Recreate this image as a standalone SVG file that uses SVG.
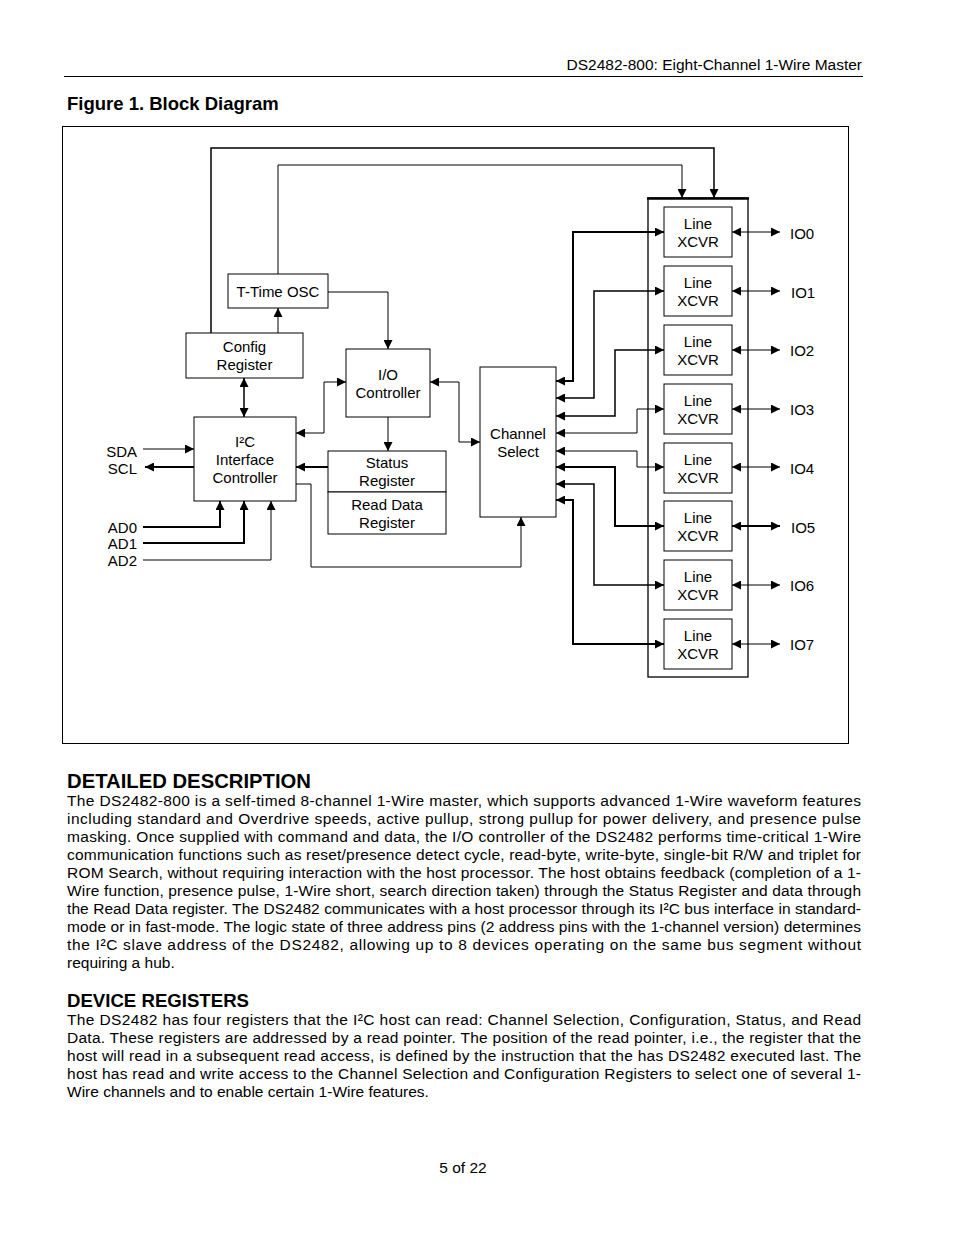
<svg xmlns="http://www.w3.org/2000/svg" width="954" height="1235" viewBox="0 0 954 1235">
<defs>
<marker id="a" viewBox="0 0 9 9" refX="9" refY="4.5" markerWidth="9" markerHeight="9" markerUnits="userSpaceOnUse" orient="auto-start-reverse">
<path d="M0,0 L9,4.5 L0,9 z" fill="#000"/>
</marker>
</defs>
<style>
text{font-family:"Liberation Sans",Arial,sans-serif;fill:#000}
.d{font-size:15px;text-anchor:middle}
.l{font-size:15px}
.r{font-size:15px;text-anchor:end}
.b{font-size:15.5px}
.h{font-weight:bold}
.box{fill:#fff;stroke:#000;stroke-width:1}
.c{fill:none;stroke:#000;stroke-width:1}
.t{stroke-width:2}
.m{stroke-width:1.5}
.e{marker-end:url(#a)}
.s{marker-start:url(#a)}
</style>
<rect width="954" height="1235" fill="#fff"/>
<g id="page">
<path d="M64,76.5 H863" stroke="#000" stroke-width="1.2"/>
<text class="b" x="862" y="70" text-anchor="end">DS2482-800: Eight-Channel 1-Wire Master</text>
<text class="h" x="67" y="110" font-size="18.5">Figure 1. Block Diagram</text>
<rect x="62.5" y="126.5" width="786" height="617" fill="none" stroke="#000" stroke-width="1"/>
</g>
<g id="xcvr-bank">
<rect x="648" y="198" width="100" height="479" fill="none" stroke="#000" stroke-width="1.3"/>
<path d="M647,198.5 H749" stroke="#000" stroke-width="2.5"/>
</g>
<g id="connectors">
<path class="c m e" d="M211,333 V148 H714 V198"/>
<path class="c e" d="M278,274 V165 H682 V198"/>
<path class="c e" d="M278,333 V308"/>
<path class="c e" d="M328,292 H388 V349"/>
<path class="c m s e" d="M244,378 V417"/>
<path class="c s e" d="M296,433 H324 V382 H346"/>
<path class="c e" d="M388,417 V451"/>
<path class="c t e" d="M328,467 H296"/>
<path class="c s e" d="M430,382 H459 V442 H480"/>
<path class="c e" d="M296,484 H311 V567 H521 V517"/>
<path class="c e" d="M143,449 H194"/>
<path class="c t e" d="M194,467 H145"/>
<path class="c t e" d="M143,527 H220 V501"/>
<path class="c t e" d="M143,543 H244 V501"/>
<path class="c e" d="M143,560 H271 V501"/>
<path class="c t s e" d="M556,381 H573 V232 H664"/>
<path class="c m s e" d="M556,398 H594 V291 H664"/>
<path class="c m s e" d="M556,416 H615 V350 H664"/>
<path class="c s e" d="M556,433 H637 V409 H664"/>
<path class="c s e" d="M556,451 H637 V467 H664"/>
<path class="c t s e" d="M556,467 H615 V526 H664"/>
<path class="c m s e" d="M556,484 H594 V585 H664"/>
<path class="c t s e" d="M556,500 H573 V644 H664"/>
<path class="c s e" d="M732,232 H780"/>
<path class="c s e" d="M732,291 H780"/>
<path class="c s e" d="M732,350 H780"/>
<path class="c s e" d="M732,409 H780"/>
<path class="c s e" d="M732,467 H780"/>
<path class="c t s e" d="M732,526 H780"/>
<path class="c s e" d="M732,585 H780"/>
<path class="c s e" d="M732,644 H780"/>
</g>
<g id="config-register">
<rect class="box" x="186" y="333" width="117" height="45" stroke-width="2"/>
<text class="d" x="244.5" y="352">Config</text>
<text class="d" x="244.5" y="370">Register</text>
</g>
<g id="t-time-osc">
<rect class="box" x="228" y="274" width="100" height="34" stroke-width="1.5"/>
<text class="d" x="278" y="297">T-Time OSC</text>
</g>
<g id="io-controller">
<rect class="box" x="346" y="349" width="84" height="68"/>
<text class="d" x="388" y="380">I/O</text>
<text class="d" x="388" y="398">Controller</text>
</g>
<g id="i2c-interface-controller">
<rect class="box" x="194" y="417" width="102" height="84" stroke-width="1.2"/>
<text class="d" x="245" y="447">I²C</text>
<text class="d" x="245" y="465">Interface</text>
<text class="d" x="245" y="483">Controller</text>
</g>
<g id="status-register">
<rect class="box" x="328" y="451" width="118" height="41"/>
<text class="d" x="387" y="468">Status</text>
<text class="d" x="387" y="486">Register</text>
</g>
<g id="read-data-register">
<rect class="box" x="328" y="492" width="118" height="42"/>
<text class="d" x="387" y="510">Read Data</text>
<text class="d" x="387" y="528">Register</text>
</g>
<g id="channel-select">
<rect class="box" x="480" y="367" width="76" height="150"/>
<text class="d" x="518" y="439">Channel</text>
<text class="d" x="518" y="457">Select</text>
</g>
<g id="xcvr0"><rect class="box" x="664" y="207" width="68" height="50"/><text class="d" x="698" y="229">Line</text><text class="d" x="698" y="247">XCVR</text></g>
<g id="xcvr1"><rect class="box" x="664" y="266" width="68" height="50"/><text class="d" x="698" y="288">Line</text><text class="d" x="698" y="306">XCVR</text></g>
<g id="xcvr2"><rect class="box" x="664" y="325" width="68" height="50"/><text class="d" x="698" y="347">Line</text><text class="d" x="698" y="365">XCVR</text></g>
<g id="xcvr3"><rect class="box" x="664" y="384" width="68" height="50"/><text class="d" x="698" y="406">Line</text><text class="d" x="698" y="424">XCVR</text></g>
<g id="xcvr4"><rect class="box" x="664" y="443" width="68" height="50"/><text class="d" x="698" y="465">Line</text><text class="d" x="698" y="483">XCVR</text></g>
<g id="xcvr5"><rect class="box" x="664" y="501" width="68" height="50" stroke-width="1.3"/><text class="d" x="698" y="523">Line</text><text class="d" x="698" y="541">XCVR</text></g>
<g id="xcvr6"><rect class="box" x="664" y="560" width="68" height="50"/><text class="d" x="698" y="582">Line</text><text class="d" x="698" y="600">XCVR</text></g>
<g id="xcvr7"><rect class="box" x="664" y="619" width="68" height="50"/><text class="d" x="698" y="641">Line</text><text class="d" x="698" y="659">XCVR</text></g>
<g id="pins">
<text class="l" x="790" y="239">IO0</text>
<text class="l" x="791" y="298">IO1</text>
<text class="l" x="790" y="356">IO2</text>
<text class="l" x="790" y="415">IO3</text>
<text class="l" x="790" y="474">IO4</text>
<text class="l" x="791" y="533">IO5</text>
<text class="l" x="790" y="591">IO6</text>
<text class="l" x="790" y="650">IO7</text>
<text class="r" x="137" y="457">SDA</text>
<text class="r" x="137" y="474">SCL</text>
<text class="r" x="137" y="533">AD0</text>
<text class="r" x="137" y="549">AD1</text>
<text class="r" x="137" y="566">AD2</text>
</g>
<g id="text">
<text class="h" x="67" y="788" font-size="19.5" textLength="244" lengthAdjust="spacingAndGlyphs">DETAILED DESCRIPTION</text>
<text class="b" x="67" y="806" textLength="794" lengthAdjust="spacing">The DS2482-800 is a self-timed 8-channel 1-Wire master, which supports advanced 1-Wire waveform features</text>
<text class="b" x="67" y="824" textLength="794" lengthAdjust="spacing">including standard and Overdrive speeds, active pullup, strong pullup for power delivery, and presence pulse</text>
<text class="b" x="67" y="842" textLength="794" lengthAdjust="spacing">masking. Once supplied with command and data, the I/O controller of the DS2482 performs time-critical 1-Wire</text>
<text class="b" x="67" y="860" textLength="794" lengthAdjust="spacing">communication functions such as reset/presence detect cycle, read-byte, write-byte, single-bit R/W and triplet for</text>
<text class="b" x="67" y="878" textLength="794" lengthAdjust="spacing">ROM Search, without requiring interaction with the host processor. The host obtains feedback (completion of a 1-</text>
<text class="b" x="67" y="896" textLength="794" lengthAdjust="spacing">Wire function, presence pulse, 1-Wire short, search direction taken) through the Status Register and data through</text>
<text class="b" x="67" y="914" textLength="794" lengthAdjust="spacing">the Read Data register. The DS2482 communicates with a host processor through its I²C bus interface in standard-</text>
<text class="b" x="67" y="932" textLength="794" lengthAdjust="spacing">mode or in fast-mode. The logic state of three address pins (2 address pins with the 1-channel version) determines</text>
<text class="b" x="67" y="950" textLength="794" lengthAdjust="spacing">the I²C slave address of the DS2482, allowing up to 8 devices operating on the same bus segment without</text>
<text class="b" x="67" y="968">requiring a hub.</text>
<text class="h" x="67" y="1007" font-size="19" textLength="182" lengthAdjust="spacingAndGlyphs">DEVICE REGISTERS</text>
<text class="b" x="67" y="1025" textLength="794" lengthAdjust="spacing">The DS2482 has four registers that the I²C host can read: Channel Selection, Configuration, Status, and Read</text>
<text class="b" x="67" y="1043" textLength="794" lengthAdjust="spacing">Data. These registers are addressed by a read pointer. The position of the read pointer, i.e., the register that the</text>
<text class="b" x="67" y="1061" textLength="794" lengthAdjust="spacing">host will read in a subsequent read access, is defined by the instruction that the has DS2482 executed last. The</text>
<text class="b" x="67" y="1079" textLength="794" lengthAdjust="spacing">host has read and write access to the Channel Selection and Configuration Registers to select one of several 1-</text>
<text class="b" x="67" y="1097">Wire channels and to enable certain 1-Wire features.</text>
<text class="b" x="463" y="1173" text-anchor="middle">5 of 22</text>
</g>
</svg>
